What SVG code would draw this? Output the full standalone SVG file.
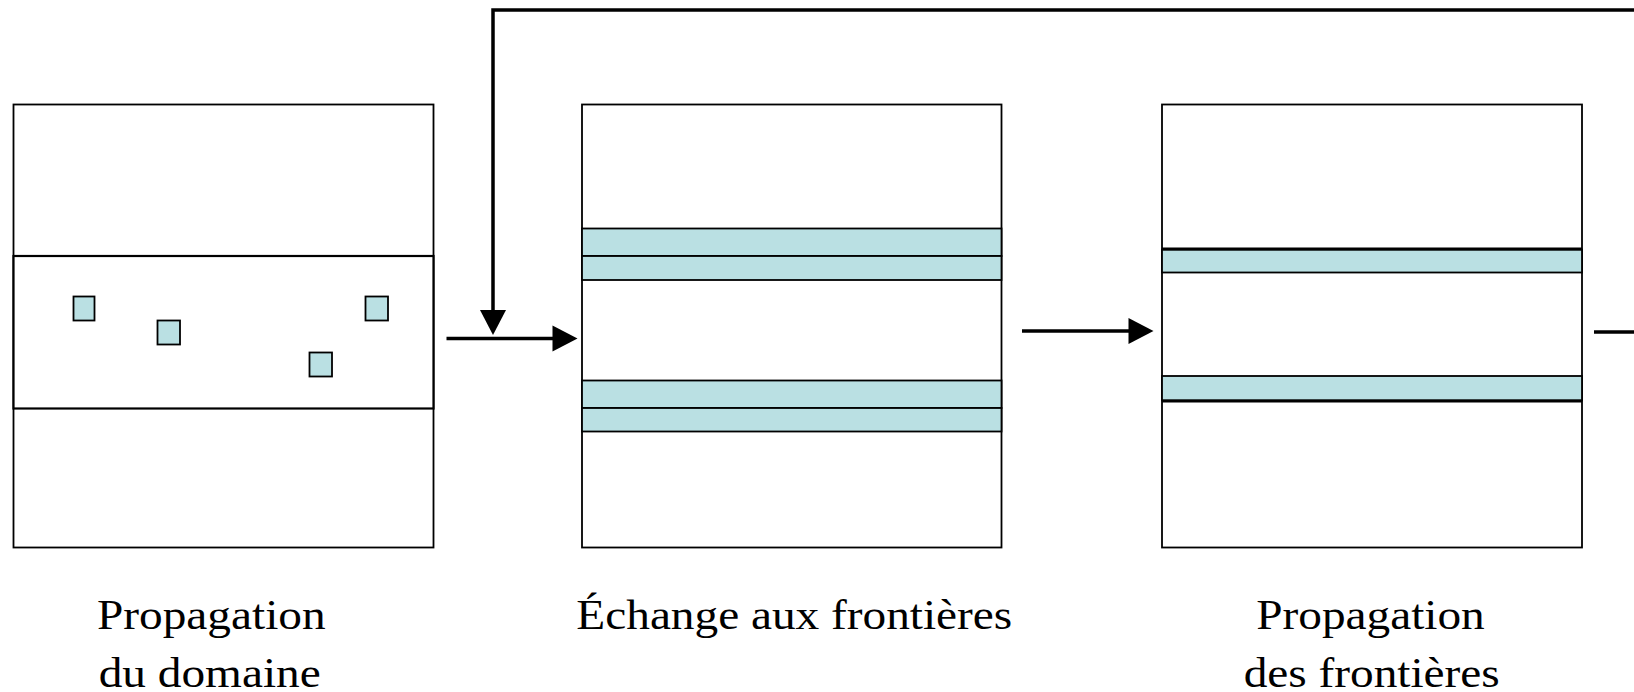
<svg xmlns="http://www.w3.org/2000/svg" width="1634" height="692" viewBox="0 0 1634 692">
<style>
.box{fill:#fff;stroke:#000;stroke-width:1.8}
.band{fill:#BAE0E3;stroke:#000;stroke-width:1.8}
.sq{fill:#BAE0E3;stroke:#000;stroke-width:1.8}
.conn{fill:none;stroke:#000;stroke-width:3.5}
.lbl{font-family:"Liberation Serif","Times New Roman",serif;font-size:43px;fill:#000;text-anchor:middle}
</style>
<defs>
<marker id="ah" markerUnits="userSpaceOnUse" markerWidth="26" markerHeight="26" refX="5" refY="13" orient="auto" overflow="visible">
<path d="M0,0 L25,13 L0,26 Z" fill="#000"/>
</marker>
</defs>
<rect width="1634" height="692" fill="#fff"/>
<g id="node1">
<rect class="box" x="13.5" y="104.5" width="420" height="443"/>
<rect class="box" x="13.5" y="256" width="420" height="152.5" style="stroke-width:2.2"/>
<rect class="sq" x="73.5" y="296.5" width="21" height="24"/>
<rect class="sq" x="157.5" y="320.5" width="22.5" height="24"/>
<rect class="sq" x="309.5" y="352.5" width="22.5" height="24"/>
<rect class="sq" x="365.5" y="296.5" width="22.5" height="24"/>
<text class="lbl" transform="translate(211.3,629) scale(1.1,1)" x="0" y="0">Propagation</text>
<text class="lbl" transform="translate(209.7,687) scale(1.1,1)" x="0" y="0">du domaine</text>
</g>
<g id="node2">
<rect class="box" x="582" y="104.5" width="419.5" height="443"/>
<rect class="band" x="582" y="228.5" width="419.5" height="27.5"/>
<rect class="band" x="582" y="256" width="419.5" height="24"/>
<rect class="band" x="582" y="380.5" width="419.5" height="27.5"/>
<rect class="band" x="582" y="408" width="419.5" height="23.5"/>
<text class="lbl" transform="translate(794.3,629) scale(1.1,1)" x="0" y="0">Échange aux frontières</text>
</g>
<g id="node3">
<rect class="box" x="1162" y="104.5" width="420" height="443"/>
<rect class="band" x="1162" y="249.5" width="420" height="23"/>
<rect class="band" x="1162" y="376" width="420" height="24.5"/>
<line x1="1162" y1="249" x2="1582" y2="249" stroke="#000" stroke-width="3"/>
<line x1="1162" y1="401" x2="1582" y2="401" stroke="#000" stroke-width="3"/>
<text class="lbl" transform="translate(1370.5,629) scale(1.1,1)" x="0" y="0">Propagation</text>
<text class="lbl" transform="translate(1371.7,687) scale(1.1,1)" x="0" y="0">des frontières</text>
</g>
<g id="connectors">
<path class="conn" d="M1634,10 H493 V315" marker-end="url(#ah)"/>
<line class="conn" x1="446.5" y1="338.5" x2="557.5" y2="338.5" marker-end="url(#ah)"/>
<line class="conn" x1="1022" y1="331" x2="1133.5" y2="331" marker-end="url(#ah)"/>
<line class="conn" x1="1594" y1="332" x2="1634" y2="332"/>
</g>
</svg>
